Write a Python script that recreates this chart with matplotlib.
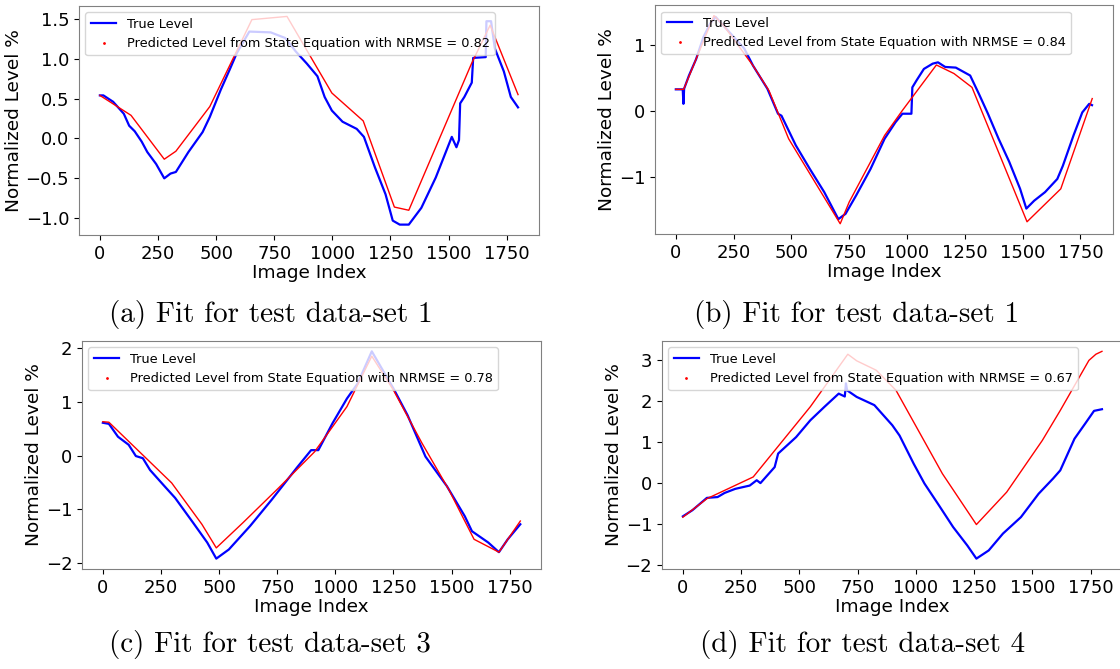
import matplotlib
matplotlib.use("Agg")
import matplotlib.pyplot as plt
from matplotlib.lines import Line2D
from matplotlib.ticker import MultipleLocator

# ---- data (image index vs normalized level) ----
# (a) test data-set 1
a_true_x = [0, 15, 57, 103, 126, 150, 180, 204, 242, 277, 304, 327, 381, 442, 473, 520, 558,
            589, 643, 735, 797, 843, 890, 936, 967, 998, 1044, 1105, 1136, 1183, 1229, 1260,
            1290, 1329, 1383, 1445, 1491, 1514, 1534, 1545, 1550, 1568, 1591, 1600, 1606, 1660,
            1663, 1683, 1699, 1738, 1768, 1799]
a_true_y = [0.54, 0.54, 0.46, 0.31, 0.16, 0.09, -0.04, -0.17, -0.32, -0.50, -0.44, -0.42,
            -0.17, 0.08, 0.27, 0.61, 0.86, 1.07, 1.34, 1.33, 1.26, 1.09, 0.94, 0.78, 0.52, 0.35,
            0.21, 0.12, 0.02, -0.36, -0.70, -1.03, -1.08, -1.08, -0.87, -0.49, -0.15, 0.02,
            -0.11, -0.02, 0.44, 0.52, 0.65, 0.70, 1.01, 1.02, 1.47, 1.47, 1.13, 0.84, 0.52, 0.39]
a_pred_x = [0, 134, 277, 327, 473, 654, 805, 998, 1133, 1267, 1329, 1599, 1679, 1799]
a_pred_y = [0.54, 0.29, -0.26, -0.16, 0.40, 1.49, 1.53, 0.57, 0.22, -0.86, -0.90, 0.94, 1.42, 0.55]

# (b) second panel
b_true_x = [0, 30, 33, 36, 57, 88, 119, 149, 172, 226, 296, 334, 396, 442, 457, 519, 580, 642,
            703, 734, 780, 842, 903, 950, 980, 1019, 1023, 1042, 1073, 1111, 1134, 1165, 1211,
            1273, 1311, 1350, 1396, 1442, 1489, 1516, 1550, 1597, 1650, 1674, 1720, 1758, 1788,
            1800]
b_true_y = [0.33, 0.33, 0.11, 0.34, 0.54, 0.79, 1.12, 1.33, 1.43, 1.22, 0.95, 0.69, 0.34,
            -0.04, -0.07, -0.52, -0.88, -1.23, -1.64, -1.56, -1.28, -0.88, -0.42, -0.17, -0.04,
            -0.04, 0.36, 0.47, 0.64, 0.72, 0.74, 0.67, 0.66, 0.54, 0.26, -0.04, -0.42, -0.77,
            -1.18, -1.48, -1.36, -1.23, -1.03, -0.83, -0.37, -0.02, 0.11, 0.09]
b_pred_x = [0, 34, 165, 211, 334, 403, 488, 711, 750, 903, 980, 1127, 1203, 1281, 1519, 1665, 1801]
b_pred_y = [0.33, 0.33, 1.45, 1.28, 0.69, 0.31, -0.42, -1.71, -1.38, -0.37, 0.01, 0.70, 0.57,
            0.36, -1.68, -1.18, 0.19]

# (c) test data-set 3
c_true_x = [0, 26, 65, 111, 142, 172, 203, 265, 311, 388, 449, 488, 542, 634, 727, 834, 896,
            927, 988, 1050, 1096, 1157, 1250, 1311, 1388, 1480, 1557, 1588, 1658, 1704, 1742, 1796]
c_true_y = [0.61, 0.59, 0.35, 0.20, -0.01, -0.05, -0.27, -0.57, -0.79, -1.25, -1.62, -1.92,
            -1.75, -1.31, -0.82, -0.23, 0.10, 0.10, 0.60, 1.06, 1.34, 1.94, 1.25, 0.75, -0.02,
            -0.57, -1.13, -1.41, -1.62, -1.80, -1.56, -1.28]
c_pred_x = [0, 26, 296, 426, 488, 603, 757, 911, 1050, 1157, 1250, 1373, 1489, 1597, 1704, 1796]
c_pred_y = [0.63, 0.62, -0.51, -1.28, -1.72, -1.25, -0.60, 0.07, 0.91, 1.85, 1.22, 0.23,
            -0.64, -1.56, -1.80, -1.22]

# (d) test data-set 4
d_true_x = [0, 41, 103, 149, 179, 225, 287, 317, 333, 394, 409, 486, 547, 608, 669, 695, 700,
            705, 746, 822, 899, 930, 991, 1037, 1099, 1160, 1221, 1260, 1313, 1374, 1451, 1527,
            1589, 1620, 1681, 1727, 1765, 1799]
d_true_y = [-0.82, -0.67, -0.37, -0.35, -0.25, -0.15, -0.07, 0.06, -0.01, 0.38, 0.71, 1.11,
            1.52, 1.85, 2.17, 2.10, 2.42, 2.25, 2.09, 1.89, 1.40, 1.15, 0.46, -0.02, -0.55,
            -1.08, -1.53, -1.85, -1.65, -1.24, -0.84, -0.27, 0.10, 0.30, 1.07, 1.44, 1.75, 1.79]
d_pred_x = [0, 103, 302, 547, 708, 746, 830, 915, 1114, 1260, 1390, 1543, 1620, 1743, 1773, 1799]
d_pred_y = [-0.84, -0.39, 0.14, 1.85, 3.13, 2.97, 2.74, 2.25, 0.22, -1.02, -0.23, 1.03, 1.76,
            2.98, 3.13, 3.20]

nrmse = ["0.82", "0.84", "0.78", "0.67"]
captions = ["(a) Fit for test data-set 1", "(b) Fit for test data-set 1",
            "(c) Fit for test data-set 3", "(d) Fit for test data-set 4"]

panels = [
    (a_true_x, a_true_y, a_pred_x, a_pred_y),
    (b_true_x, b_true_y, b_pred_x, b_pred_y),
    (c_true_x, c_true_y, c_pred_x, c_pred_y),
    (d_true_x, d_true_y, d_pred_x, d_pred_y),
]

# axes boxes in figure fractions [left, bottom, width, height]
boxes = [
    [0.0705, 0.6487, 0.4107, 0.3423],
    [0.5848, 0.6500, 0.4090, 0.3423],
    [0.0732, 0.1495, 0.4100, 0.3408],
    [0.5910, 0.1495, 0.4116, 0.3408],
]
ysteps = [0.5, 1, 1, 1]
caption_pos = [(0.242, 0.530), (0.765, 0.530), (0.241, 0.037), (0.770, 0.037)]

fig = plt.figure(figsize=(11.2, 6.69), dpi=100)

for i, (tx, ty, px, py) in enumerate(panels):
    ax = fig.add_axes(boxes[i])
    ax.plot(tx, ty, color="b", lw=1.6, label="True Level")
    ax.plot(px, py, color="r", lw=1.0)
    ax.xaxis.set_major_locator(MultipleLocator(250))
    ax.yaxis.set_major_locator(MultipleLocator(ysteps[i]))
    ax.tick_params(labelsize=13)
    ax.set_xlabel("Image Index", fontsize=13.3, labelpad=1)
    ax.set_ylabel("Normalized Level %", fontsize=13.3, labelpad=2)
    for s in ax.spines.values():
        s.set_color("0.5")
    handles = [
        Line2D([], [], color="b", lw=1.6),
        Line2D([], [], color="r", marker=".", ls="none", markersize=2),
    ]
    ax.legend(handles, ["True Level",
                        "Predicted Level from State Equation with NRMSE = " + nrmse[i]],
              loc="upper left", fontsize=9.3)
    fig.text(caption_pos[i][0], caption_pos[i][1], captions[i], family="cmr10",
             fontsize=21, ha="center", va="center")

fig.savefig("out.png", dpi=100)
